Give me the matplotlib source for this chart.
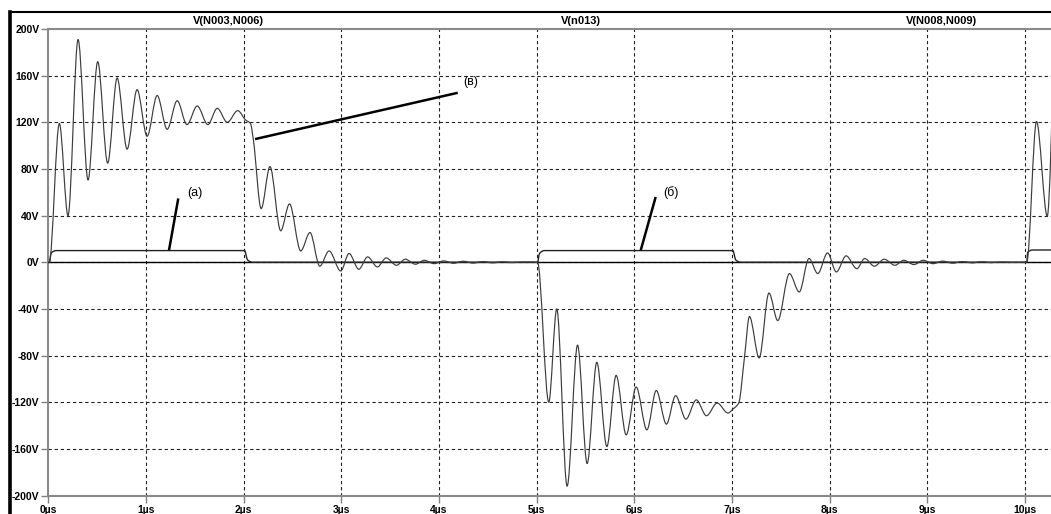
import matplotlib
matplotlib.use("Agg")
import matplotlib.pyplot as plt
from matplotlib.lines import Line2D
from matplotlib.path import Path
from matplotlib.patches import PathPatch

# ---- data ----
# main ringing waveform (в), time in µs, voltage in V
wave_t = [0, 0.01, 0.113, 0.202, 0.305, 0.407, 0.506, 0.608, 0.705, 0.807, 0.909,
          1.012, 1.115, 1.217, 1.32, 1.42, 1.525, 1.634, 1.73, 1.833, 1.94, 2.02,
          2.07, 2.10, 2.18, 2.27, 2.38, 2.47, 2.585, 2.68, 2.78, 2.875, 2.995, 3.08,
          3.18, 3.27, 3.37, 3.46, 3.566, 3.655, 3.76, 3.85, 3.95, 4.05, 4.15, 4.25,
          4.35, 4.45, 4.55, 4.65, 4.75, 4.85, 5.01,
          5.125, 5.207, 5.313, 5.42, 5.518, 5.617, 5.72, 5.815, 5.918, 6.02, 6.13,
          6.226, 6.33, 6.424, 6.53, 6.636, 6.74, 6.85, 6.96, 7.01, 7.07, 7.13, 7.18,
          7.28, 7.38, 7.47, 7.59, 7.69, 7.79, 7.88, 7.98, 8.07, 8.17, 8.28, 8.36,
          8.46, 8.56, 8.67, 8.76, 8.865, 8.96, 9.06, 9.16, 9.26, 9.36, 9.46, 9.56,
          9.66, 9.76, 9.86, 10.0, 10.02, 10.12, 10.23, 10.305]
wave_v = [0, 0, 119, 40, 191, 70.5, 172, 85, 158, 97, 148,
          108, 143, 114, 138.5, 118, 134, 118, 132, 120, 130, 122,
          119, 105, 46, 82, 27, 50, 9.7, 25.5, -3.4, 9.7, -7.5, 7.5,
          -6, 4.6, -4, 3.7, -2.6, 2.6, -1.7, 1.7, -1.2, 1.2, -0.9, 0.9,
          -0.7, 0.6, -0.5, 0.4, -0.3, 0.2, 0,
          -120, -40, -192, -71, -172.6, -85.8, -158, -97, -148, -107, -143.7,
          -110, -138.8, -114.4, -134.5, -118, -131.6, -120.7, -129.3, -126, -120.7, -81, -46.5,
          -82, -26.4, -50, -9.7, -25.5, 3.2, -9.7, 8, -8.3, 5.5, -5.5, 3.2,
          -3.4, 2.6, -2.6, 1.7, -2, 1.7, -1.2, 1.0, -0.8, 0.6, -0.5, 0.4,
          -0.3, 0.2, -0.1, 0, 0, 120.7, 39.6, 191]

# control pulses (a), (б)
pulse_t = [0, 0.01, 0.03, 0.08, 2.01, 2.04, 2.09, 5.0, 5.01, 5.03, 5.08,
           7.01, 7.04, 7.09, 10.02, 10.03, 10.08, 10.3]
pulse_v = [0, 0, 8, 10, 10, 2, 0, 0, 0, 7.5, 10,
           10, 2, 0, 0, 8.5, 10.5, 10.5]

# near-zero trace
zero_t = [0, 10.3]
zero_v = [0, 0]

trace_names = ["V(N003,N006)", "V(n013)", "V(N008,N009)"]
x_ticks = list(range(0, 11))
x_labels = [f"{i}\u00b5s" for i in x_ticks]
y_ticks = list(range(-200, 201, 40))
y_labels = [f"{v}V" for v in y_ticks]

# annotations: label, line start, line end, label position (data coords)
annotations = [
    ("(a)", (1.236, 10.3), (1.331, 54.7), (1.50, 59)),
    ("(б)", (6.067, 10.3), (6.22, 56), (6.38, 59.5)),
    ("(в)", (2.117, 105.6), (4.193, 145.3), (4.33, 154.8)),
]


def smooth_path(xs, ys):
    """Monotone cubic (Bezier) path through the given points."""
    n = len(xs)
    h = [xs[i + 1] - xs[i] for i in range(n - 1)]
    s = [(ys[i + 1] - ys[i]) / h[i] for i in range(n - 1)]
    d = [0.0] * n
    d[0], d[-1] = s[0], s[-1]
    for i in range(1, n - 1):
        if s[i - 1] * s[i] <= 0:
            d[i] = 0.0
        else:
            w1 = 2 * h[i] + h[i - 1]
            w2 = h[i] + 2 * h[i - 1]
            d[i] = (w1 + w2) / (w1 / s[i - 1] + w2 / s[i])
    verts = [(xs[0], ys[0])]
    codes = [Path.MOVETO]
    for i in range(n - 1):
        k = h[i] / 3
        verts += [(xs[i] + k, ys[i] + d[i] * k),
                  (xs[i + 1] - k, ys[i + 1] - d[i + 1] * k),
                  (xs[i + 1], ys[i + 1])]
        codes += [Path.CURVE4] * 3
    return Path(verts, codes)


# ---- figure ----
W, H = 1051, 514
fig = plt.figure(figsize=(W / 100, H / 100), dpi=100)
fig.patch.set_facecolor("white")
left, right, top, bottom = 48.3, 1051, 29, 495.5
ax = fig.add_axes([left / W, (H - bottom) / H, (right - left) / W, (bottom - top) / H])
ax.set_xlim(0, (right - left) / 97.65)
ax.set_ylim(-200, 200)

grid_kw = dict(color="#222222", lw=0.8, ls=(0, (3, 2.5)), zorder=1)
for t in x_ticks[1:]:
    ax.axvline(t, **grid_kw)
for v in y_ticks[1:-1]:
    ax.axhline(v, **grid_kw)

ax.plot(zero_t, zero_v, color="black", lw=1.0, zorder=3)
ax.add_patch(PathPatch(smooth_path(pulse_t, pulse_v), fill=False,
                       edgecolor="#222222", lw=1.0, zorder=4))
ax.add_patch(PathPatch(smooth_path(wave_t, wave_v), fill=False,
                       edgecolor="#3c3c3c", lw=0.85, zorder=5))

for lab, p0, p1, pl in annotations:
    ax.plot([p0[0], p1[0]], [p0[1], p1[1]], color="black", lw=1.8, zorder=6,
            solid_capstyle="butt")
    ax.text(pl[0], pl[1], lab, fontsize=9, family="Liberation Sans",
            ha="center", va="center", zorder=7)

ax.set_xticks(x_ticks)
ax.set_xticklabels(x_labels)
ax.set_yticks(y_ticks)
ax.set_yticklabels(y_labels)
ax.tick_params(axis="both", direction="out", length=5, width=1, color="#808080",
               labelsize=7.5, pad=1.5)
for lbl in ax.get_xticklabels() + ax.get_yticklabels():
    lbl.set_fontweight("bold")
    lbl.set_family("Liberation Sans")
for s in ["left", "bottom", "top"]:
    ax.spines[s].set_color("#8a8a8a")
    ax.spines[s].set_linewidth(1.5)
ax.spines["right"].set_visible(False)

# trace names above the plot
for name, xp in zip(trace_names, [228, 581, 941]):
    fig.text(xp / W, (H - 21) / H, name, fontsize=8, fontweight="bold",
             family="Liberation Sans", ha="center", va="center")

# window frame
fig.add_artist(Line2D([10 / W, 1], [(H - 12) / H] * 2, color="black", lw=1.5))
fig.add_artist(Line2D([9.8 / W] * 2, [0, (H - 12) / H], color="black", lw=2.6))

fig.savefig("out.png", dpi=100)
